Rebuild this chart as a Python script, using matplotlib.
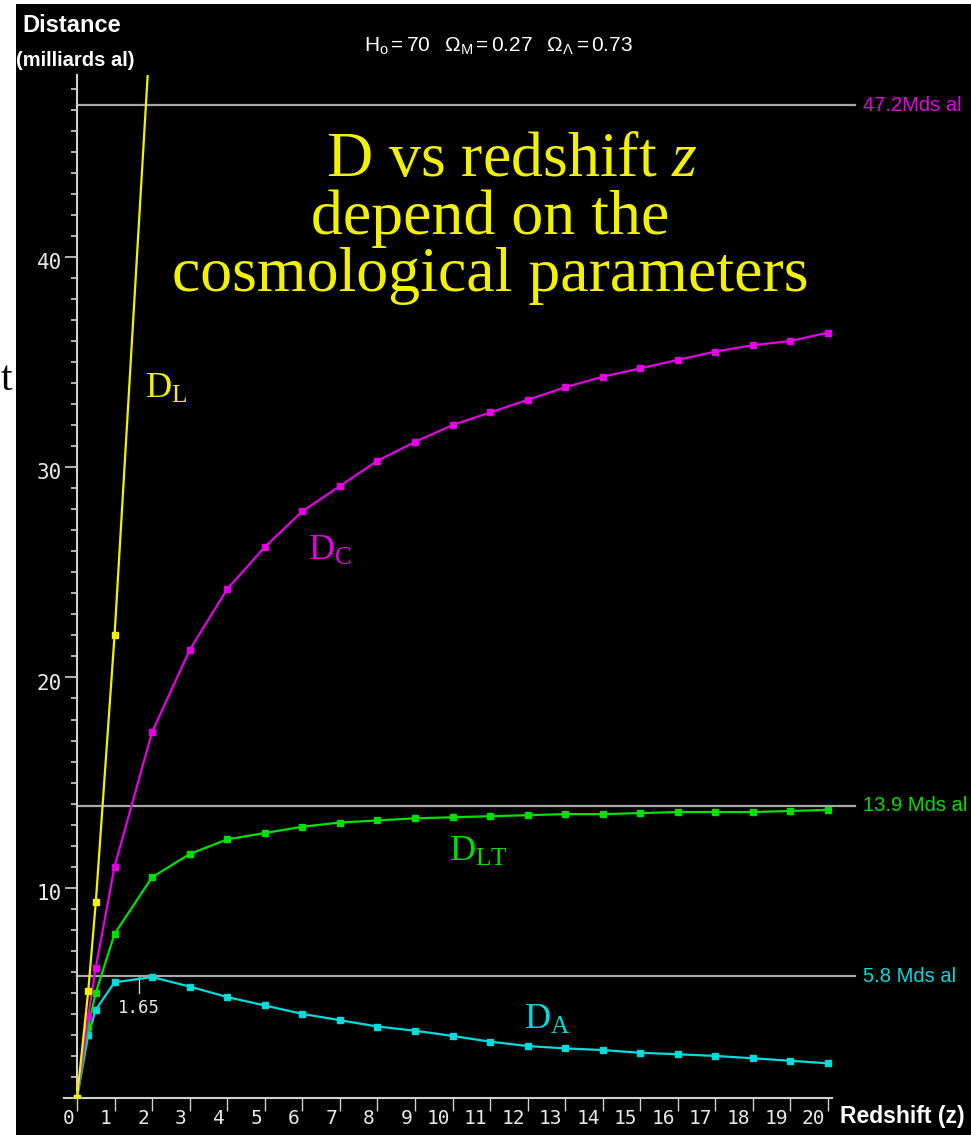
import matplotlib
matplotlib.use("Agg")
import matplotlib.pyplot as plt
from matplotlib import font_manager
from matplotlib.patches import Rectangle
from matplotlib.transforms import ScaledTranslation

# redshift grid and distances (milliards d'annees-lumiere)
z = [0, 0.3, 0.5, 1, 2, 3, 4, 5, 6, 7, 8, 9, 10, 11, 12, 13, 14, 15, 16, 17, 18, 19, 20]
d_comoving = [0, 3.9, 6.2, 11.0, 17.4, 21.3, 24.2, 26.2, 27.9, 29.1, 30.3, 31.2, 32.0,
              32.6, 33.2, 33.8, 34.3, 34.7, 35.1, 35.5, 35.8, 36.0, 36.4]
d_lookback = [0, 3.4, 5.0, 7.8, 10.5, 11.6, 12.3, 12.6, 12.9, 13.1, 13.2, 13.3, 13.35,
              13.4, 13.45, 13.5, 13.5, 13.55, 13.6, 13.6, 13.6, 13.65, 13.7]
d_angular = [0, 3.0, 4.2, 5.5, 5.75, 5.3, 4.8, 4.4, 4.0, 3.7, 3.4, 3.2, 2.95,
             2.68, 2.47, 2.36, 2.28, 2.15, 2.08, 2.0, 1.89, 1.77, 1.65]
z_lum = [0, 0.3, 0.5, 1, 2]
d_luminosity = [0, 5.1, 9.3, 22.0, 52.2]

limits = [47.2, 13.9, 5.8]
limit_labels = ["47.2Mds al", "13.9 Mds al", "5.8 Mds al"]

YELLOW = "#f2f200"
MAGENTA = "#e600e6"
GREEN = "#00e000"
CYAN = "#00dcdc"
GREY = "#a8a8a8"
AXIS = "#d0d0d0"

names = {f.name for f in font_manager.fontManager.ttflist}
NARROW = "Liberation Sans Narrow" if "Liberation Sans Narrow" in names else "Liberation Sans"

plt.rcParams["mathtext.fontset"] = "custom"
plt.rcParams["mathtext.rm"] = "Liberation Serif"
plt.rcParams["mathtext.it"] = "Liberation Serif:italic"
plt.rcParams["mathtext.bf"] = "Liberation Serif:bold"
plt.rcParams["mathtext.sf"] = NARROW

W, H = 971, 1135


def px(x, y):
    return x / W, 1 - y / H


fig = plt.figure(figsize=(W / 100, H / 100), dpi=100, facecolor="black")

# white strips at the left and top edges of the screenshot
fig.patches.append(Rectangle((0, 0), 16 / W, 1, transform=fig.transFigure,
                             facecolor="white", edgecolor="none", zorder=0))
fig.patches.append(Rectangle((0, 1 - 4 / H), 1, 4 / H, transform=fig.transFigure,
                             facecolor="white", edgecolor="none", zorder=0))
fig.text(*px(1, 390), "t", color="black", fontsize=30, family="Liberation Serif",
         ha="left", va="baseline")

ax = fig.add_axes([64 / W, 37 / H, 768 / W, 1023 / H])
ax.set_facecolor("black")
ax.set_xlim(-13 / 37.55, 755 / 37.55)
ax.set_ylim(0, 48.65)

for side in ["top", "right"]:
    ax.spines[side].set_visible(False)
ax.spines["left"].set_position(("data", 0))
for side in ["left", "bottom"]:
    ax.spines[side].set_color(AXIS)
    ax.spines[side].set_linewidth(1.5)

ax.set_xticks(range(21))
ax.set_xticklabels([str(i) for i in range(21)])
ax.set_yticks([10, 20, 30, 40])
ax.set_yticks(range(0, 49), minor=True)
ax.tick_params(axis="x", direction="out", length=9, width=1, color=AXIS,
               labelcolor="#e8e8e8", labelsize=14, pad=-1)
ax.tick_params(axis="y", which="major", direction="out", length=9, width=1.2, color=AXIS,
               labelcolor="#e8e8e8", labelsize=15, pad=2)
ax.tick_params(axis="y", which="minor", direction="out", length=4, width=1.2, color=AXIS)
shift = ScaledTranslation(-2 / 72, 0, fig.dpi_scale_trans)
for lab in ax.get_xticklabels():
    lab.set_family("DejaVu Sans Mono")
    lab.set_horizontalalignment("right")
    lab.set_transform(lab.get_transform() + shift)
for lab in ax.get_yticklabels():
    lab.set_family("DejaVu Sans Mono")
    lab.set_transform(lab.get_transform() + ScaledTranslation(0, -3 / 72, fig.dpi_scale_trans))

# asymptotic / reference levels
limit_colors = [MAGENTA, GREEN, CYAN]
for val, lab, col in zip(limits, limit_labels, limit_colors):
    ax.plot([0, 20.72], [val, val], color=GREY, lw=1.6, clip_on=False, zorder=1)
    ax.text(20.93, val, lab, color=col, fontsize=14.5, family=NARROW,
            ha="left", va="center", clip_on=False)

mk = dict(marker="s", markersize=4, lw=1.6)
ax.plot(z, d_angular, color=CYAN, zorder=3, **mk)
ax.plot(z, d_lookback, color=GREEN, zorder=3, **mk)
ax.plot(z, d_comoving, color=MAGENTA, zorder=4, **mk)
ax.plot(z_lum, d_luminosity, color=YELLOW, zorder=5, **mk)

# curve names
lab_kw = dict(fontsize=26, family="Liberation Serif", ha="left", va="center")
ax.text(1.8, 33.7, r"D$_\mathrm{L}$", color=YELLOW, **lab_kw)
ax.text(6.15, 26.0, r"D$_\mathrm{C}$", color=MAGENTA, **lab_kw)
ax.text(9.9, 11.7, r"D$_\mathrm{LT}$", color=GREEN, **lab_kw)
ax.text(11.9, 3.7, r"D$_\mathrm{A}$", color=CYAN, **lab_kw)

# maximum of the angular distance
ax.plot([1.65, 1.65], [5.0, 5.75], color=AXIS, lw=1)
ax.text(1.65, 4.3, "1.65", color="#e8e8e8", fontsize=12.5, family="DejaVu Sans Mono",
        ha="center", va="center")

# headline
big = dict(color=YELLOW, fontsize=46, family="Liberation Serif", ha="center", va="baseline")
fig.text(*px(512, 176), r"D vs redshift $z$", **big)
fig.text(*px(490, 234), "depend on the", **big)
fig.text(*px(490, 291), "cosmological parameters", **big)

# titles
fig.text(*px(22, 25), "Distance", color="white", fontsize=17, family=NARROW,
         weight="bold", ha="left", va="center")
fig.text(*px(16, 61), "(milliards al)", color="white", fontsize=14.5, family=NARROW,
         weight="bold", ha="left", va="center")
fig.text(*px(840, 1116), "Redshift (z)", color="white", fontsize=16.5, family=NARROW,
         weight="bold", ha="left", va="center")
fig.text(*px(498, 46), r"$\mathsf{H_o{=}70\ \ \ \Omega_M{=}0.27\ \ \ \Omega_\Lambda{=}0.73}$",
         color="white", fontsize=15, ha="center", va="center")

fig.savefig("out.png", dpi=100, facecolor=fig.get_facecolor())
